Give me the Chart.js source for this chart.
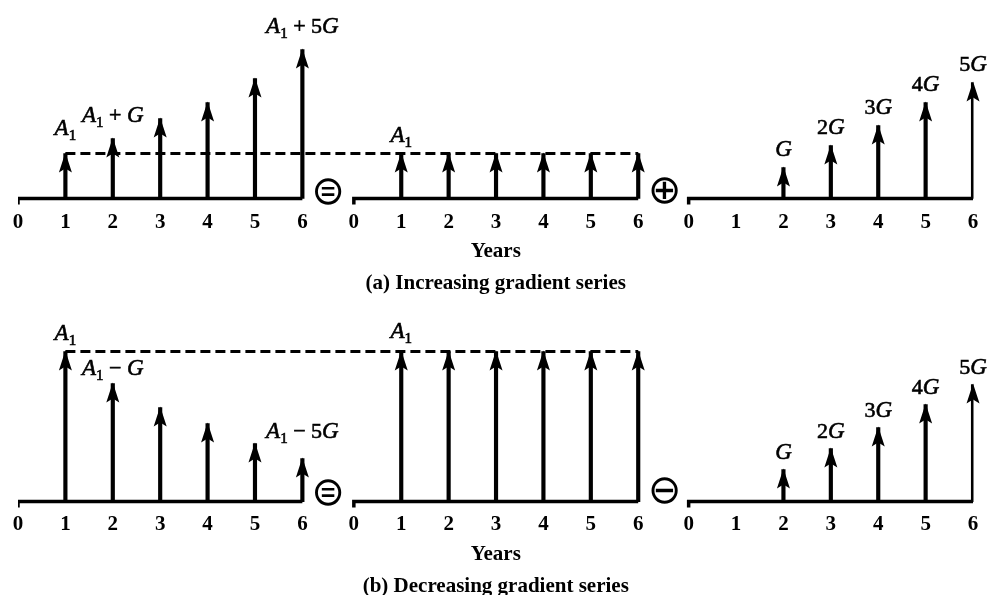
<!DOCTYPE html>
<html>
<head>
<meta charset="utf-8">
<script src="https://cdn.jsdelivr.net/npm/chart.js@4.4.1/dist/chart.umd.min.js"></script>
<style>
    html, body { margin: 0; padding: 0; background: #fff; }
    body { width: 988px; height: 595px; position: relative; overflow: hidden; }
    canvas { position: absolute; left: 0; }
    #row-a { top: 0; }
    #row-b { top: 300px; }
</style>
</head>
<body>
<canvas id="row-a" width="988" height="300"></canvas>
<canvas id="row-b" width="988" height="295"></canvas>
<script>
// years on every axis, arrows at 1..6
const tickYears = [0, 1, 2, 3, 4, 5, 6];
const years = [1, 2, 3, 4, 5, 6];

// (a) increasing gradient series, heights
const incCombined = [45, 60, 80, 96, 120, 149];
const incUniform = [45, 45, 45, 45, 45, 45];
const incGradient = [null, 31, 53, 73, 96, 116];
const incCombinedLabels = ['A_1', 'A_1 + G', '', '', '', 'A_1 + 5G'];

// (b) decreasing gradient series
const decCombined = [150, 118, 94, 78, 58, 43];
const decUniform = [150, 150, 150, 150, 150, 150];
const decGradient = [null, 32, 53, 74, 97, 117];
const decCombinedLabels = ['A_1', 'A_1 − G', '', '', '', 'A_1 − 5G'];

const uniformLabels = ['A_1', '', '', '', '', ''];
const gradientLabels = ['', 'G', '2G', '3G', '4G', '5G'];

const captions = ['(a) Increasing gradient series', '(b) Decreasing gradient series'];
const signsA = ['⊜', '⊕'];
const signsB = ['⊜', '⊖'];

// layout: where each panel's year 0 sits on the shared x scale
const panelStart = [0, 7.086, 14.15];
const xMax = 20.16;
const signX = [6.54, 13.64];

const serif = '"Liberation Serif", "Times New Roman", serif';

function drawRich(ctx, text, cx, baseY) {
    const runs = [];
    for (let i = 0; i < text.length; i++) {
        let c = text[i];
        let sub = false;
        if (c === '_') { sub = true; c = text[++i]; }
        runs.push({ c: c, sub: sub, italic: /[A-Z]/.test(c) });
    }
    const fontFor = r => r.sub ? '15px ' + serif : (r.italic ? 'italic 23px ' + serif : '22px ' + serif);
    let w = 0;
    runs.forEach(r => { ctx.font = fontFor(r); r.w = ctx.measureText(r.c).width; w += r.w; });
    let x = cx - w / 2;
    ctx.lineWidth = 0.6;
    ctx.strokeStyle = '#000';
    runs.forEach(r => {
        ctx.font = fontFor(r);
        ctx.fillText(r.c, x, baseY + (r.sub ? 5 : 0));
        ctx.strokeText(r.c, x, baseY + (r.sub ? 5 : 0));
        x += r.w;
    });
}

const cashflowPlugin = {
    id: 'cashflow',
    afterDatasetsDraw(chart, args, opts) {
        const ctx = chart.ctx;
        const xs = chart.scales.x, ys = chart.scales.y;
        ctx.save();
        ctx.fillStyle = '#000';
        ctx.textAlign = 'left';
        ctx.textBaseline = 'alphabetic';
        chart.data.datasets.forEach((ds, di) => {
            if (ds.type === 'line') return;
            const meta = chart.getDatasetMeta(di);
            meta.data.forEach((bar, i) => {
                const raw = ds.data[i];
                if (!raw || raw.y == null) return;
                // arrowhead
                const tipX = bar.x, tipY = bar.y;
                ctx.beginPath();
                ctx.moveTo(tipX, tipY - 1);
                ctx.lineTo(tipX + 6.5, tipY + 19);
                ctx.lineTo(tipX, tipY + 15);
                ctx.lineTo(tipX - 6.5, tipY + 19);
                ctx.closePath();
                ctx.fill();
                const label = ds.arrowLabels[raw.k];
                if (label) {
                    const lift = (ds.lift[label] !== undefined) ? ds.lift[label] : ds.lift.all;
                    drawRich(ctx, label, tipX, tipY - lift);
                }
            });
        });
        // the = + - signs between panels
        ctx.font = '40px "DejaVu Sans"';
        ctx.textAlign = 'center';
        ctx.textBaseline = 'middle';
        opts.signs.forEach((s, i) => {
            const x = xs.getPixelForValue(signX[i]), y = ys.getPixelForValue(opts.signY[i]);
            ctx.fillText(s, x, y);
        });
        ctx.restore();
    }
};

function makeRow(id, panels, a1, signs, signY, caption, lay) {
    const datasets = [];
    panels.forEach((p, pi) => {
        const s = panelStart[pi];
        datasets.push({
            type: 'bar',
            data: years.map((yr, k) => ({ x: s + yr, y: p.values[k], k: k })).filter(d => d.y != null),
            arrowLabels: p.labels,
            lift: p.lift,
            backgroundColor: '#000',
            borderWidth: 0,
            barThickness: 3.5,
            grouped: false,
            order: 1
        });
        // time line with its little hook at year 0
        datasets.push({
            type: 'line',
            data: [{ x: s, y: -6 }, { x: s, y: 0 }, { x: s + 6, y: 0 }],
            borderColor: '#000',
            borderWidth: 3.5,
            borderJoinStyle: 'miter',
            pointRadius: 0,
            tension: 0,
            order: 2
        });
    });
    // dashed A1 level across the first two panels
    datasets.push({
        type: 'line',
        data: [{ x: panelStart[0] + 1, y: a1 }, { x: panelStart[1] + 6, y: a1 }],
        borderColor: '#000',
        borderWidth: 3,
        borderDash: [10, 5],
        pointRadius: 0,
        order: 3
    });

    const tickValues = [];
    panelStart.forEach(s => tickYears.forEach(t => tickValues.push(s + t)));

    return new Chart(document.getElementById(id), {
        type: 'bar',
        data: { datasets: datasets },
        plugins: [cashflowPlugin],
        options: {
            responsive: false,
            animation: false,
            devicePixelRatio: 1,
            events: [],
            layout: { padding: { left: 18, right: 14.5, top: 0, bottom: 0 } },
            scales: {
                x: {
                    type: 'linear',
                    min: 0,
                    max: xMax,
                    offset: false,
                    border: { display: false },
                    grid: { display: false, drawTicks: false },
                    afterBuildTicks: (scale) => { scale.ticks = tickValues.map(v => ({ value: v })); },
                    ticks: {
                        autoSkip: false,
                        maxRotation: 0,
                        padding: lay.tickPad,
                        color: '#000',
                        font: { family: serif, size: 21, weight: 'bold', lineHeight: 1 },
                        callback: (v, i) => String(tickYears[i % tickYears.length])
                    },
                    title: {
                        display: true,
                        text: 'Years',
                        color: '#000',
                        font: { family: serif, size: 21, weight: 'bold', lineHeight: 1 },
                        padding: { top: lay.titlePad, bottom: 0 }
                    }
                },
                y: {
                    display: false,
                    min: -10,
                    max: lay.yMax
                }
            },
            plugins: {
                legend: { display: false },
                tooltip: { enabled: false },
                title: {
                    display: true,
                    position: 'bottom',
                    fullSize: false,
                    text: caption,
                    color: '#000',
                    font: { family: serif, size: 21, weight: 'bold', lineHeight: lay.capLine },
                    padding: { top: lay.capPadTop, bottom: lay.capPadBottom }
                },
                cashflow: { signs: signs, signY: signY }
            }
        }
    });
}

makeRow('row-a', [
    { values: incCombined, labels: incCombinedLabels, lift: { all: 17, 'A_1': 19 } },
    { values: incUniform, labels: uniformLabels, lift: { all: 12 } },
    { values: incGradient, labels: gradientLabels, lift: { all: 12 } }
], 45, signsA, [5, 6], captions[0],
   { tickPad: 4, titlePad: 3.5, capLine: 1, capPadTop: 11, capPadBottom: 6, yMax: 198.5 });

makeRow('row-b', [
    { values: decCombined, labels: decCombinedLabels, lift: { all: 12, 'A_1 − G': 9, 'A_1 − 5G': 21 } },
    { values: decUniform, labels: uniformLabels, lift: { all: 14 } },
    { values: decGradient, labels: gradientLabels, lift: { all: 11 } }
], 150, signsB, [6.5, 8.5], captions[1],
   { tickPad: 2, titlePad: 7.5, capLine: 0.8, capPadTop: 13.1, capPadBottom: 0, yMax: 201.5 });
</script>
</body>
</html>
